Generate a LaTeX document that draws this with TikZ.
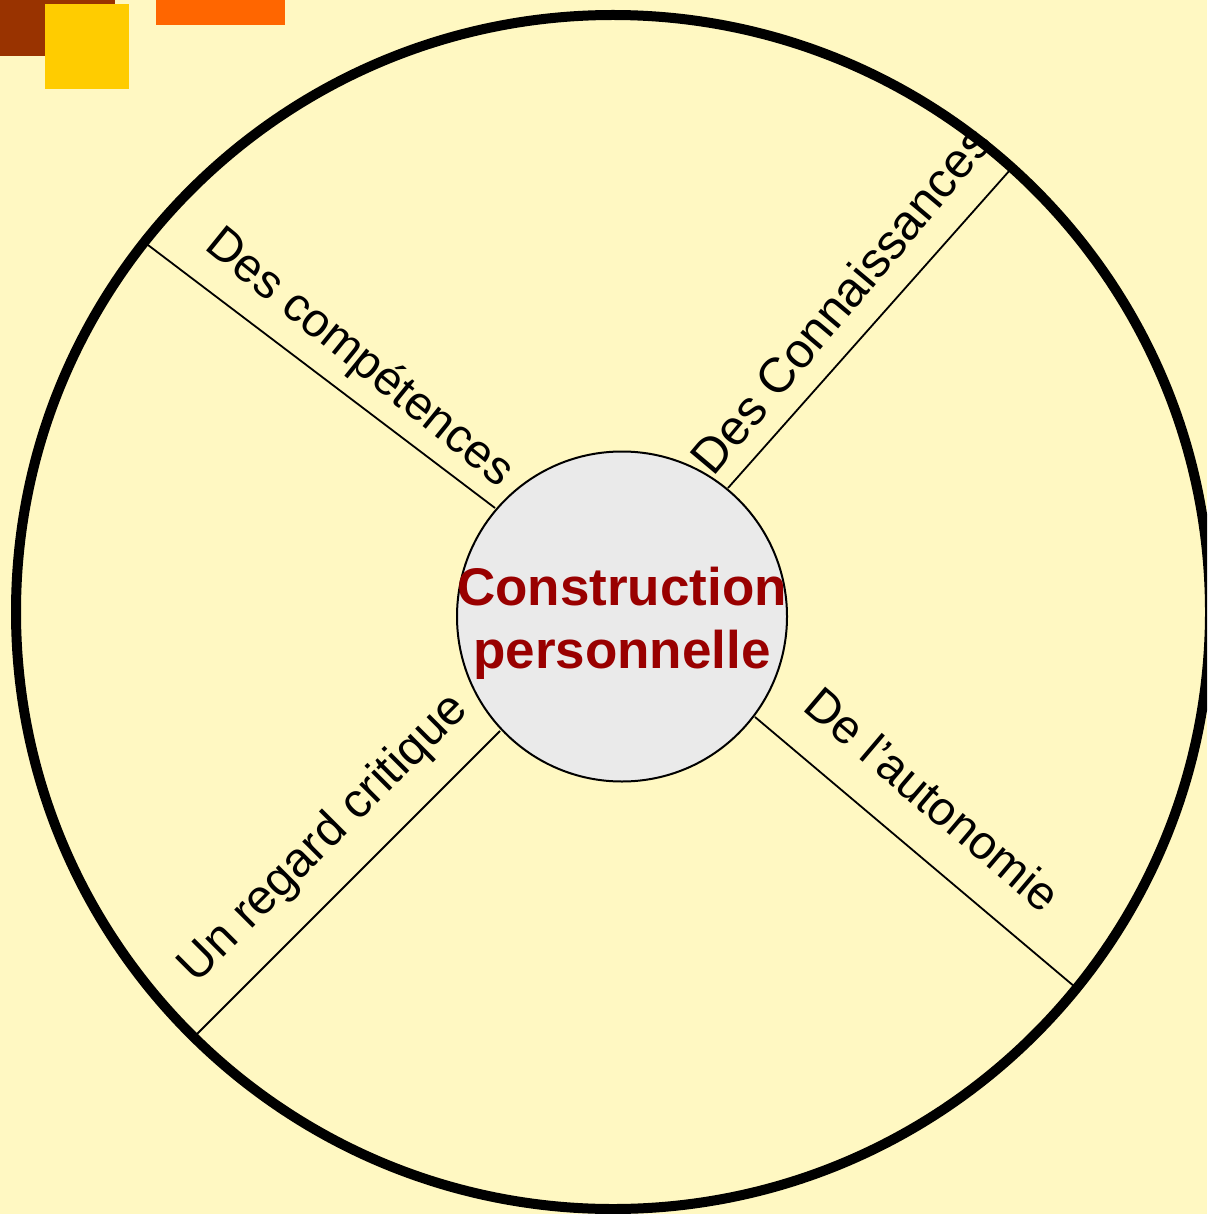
\documentclass[tikz,border=0pt]{standalone}
\usepackage{fontspec}
\setmainfont{Liberation Sans}
\definecolor{bgyellow}{HTML}{FFF8C2}
\definecolor{sqbrown}{HTML}{993300}
\definecolor{sqyellow}{HTML}{FFCC00}
\definecolor{sqorange}{HTML}{FF6600}
\definecolor{coregray}{HTML}{EAEAEA}
\definecolor{titlered}{HTML}{990000}
\begin{document}
\begin{tikzpicture}[x=1pt,y=-1pt,
  spoke/.style={draw=black, line width=1.8pt},
  rimstyle/.style={draw=black, circle, line width=10pt, minimum size=1194pt, inner sep=0pt},
  corestyle/.style={draw=black, circle, fill=coregray, line width=2pt, minimum size=330pt, inner sep=0pt},
  lbl/.style={anchor=base, inner sep=0pt, text=black}]
\useasboundingbox (0,0) rectangle (1207,1214);
\clip (0,0) rectangle (1207,1214);
\fill[bgyellow] (0,0) rectangle (1207,1214);
% decorative squares
\fill[sqbrown] (0,0) rectangle (115,56);
\fill[sqyellow] (45,4) rectangle (129,89);
\fill[sqorange] (156,0) rectangle (285,25);
% spoke end points
\coordinate (o1) at (148,245);
\coordinate (i1) at (495,508);
\coordinate (o2) at (1010,170);
\coordinate (i2) at (728,488);
\coordinate (o3) at (1075,987);
\coordinate (i3) at (755,717);
\coordinate (o4) at (197,1034);
\coordinate (i4) at (500,731);
\draw[spoke] (o1) -- (i1);
\draw[spoke] (o2) -- (i2);
\draw[spoke] (o3) -- (i3);
\draw[spoke] (o4) -- (i4);
% outer rim
\node[rimstyle] (rim) at (613,612) {};
% central circle
\node[corestyle] (core) at (622,616.5) {};
\node[inner sep=0pt, align=center, text=titlered,
      font=\fontsize{53}{63}\selectfont\bfseries] (title) at (622,623)
      {Construction\\personnelle};
% labels
\node[lbl, rotate=-39, font=\fontsize{47.5}{56}\selectfont] (l1) at (351,368.5) {Des compétences};
\node[lbl, rotate=50, font=\fontsize{49}{59}\selectfont] (l2) at (854,311) {Des Connaissances};
\node[lbl, rotate=-40.3, font=\fontsize{47.5}{56}\selectfont] (l3) at (922,812) {De l’autonomie};
\node[lbl, rotate=45, font=\fontsize{48.5}{58}\selectfont] (l4) at (333,848) {Un regard critique};
\end{tikzpicture}
\end{document}
